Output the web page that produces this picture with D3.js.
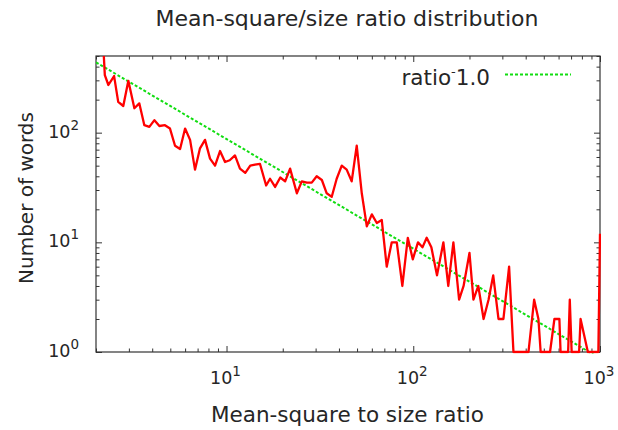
<!DOCTYPE html>
<html><head><meta charset="utf-8">
<script src="https://cdn.jsdelivr.net/npm/d3@7"></script>
<style>
body{margin:0;background:#fff}
text{font-family:"DejaVu Sans",sans-serif;fill:#262626}
</style>
</head><body>
<svg id="c" width="618" height="430"></svg>
<script>
// ---- data ----
const ratioBins = [2.19, 2.23, 2.33, 2.50, 2.63, 2.80, 2.98, 3.21, 3.41, 3.63,
  3.86, 4.11, 4.37, 4.68, 4.98, 5.30, 5.64, 6.00, 6.38, 6.78,
  7.21, 7.67, 8.16, 8.68, 9.23, 9.82, 10.4, 11.1, 11.8, 12.6,
  13.4, 14.2, 15.1, 16.3, 17.1, 18.2, 19.4, 20.6, 21.9, 23.8,
  25.3, 26.9, 28.6, 30.4, 32.4, 34.4, 36.6, 38.9, 41.4, 44.0,
  46.8, 49.8, 53.0, 56.4, 60.0, 63.8, 67.8, 72.1, 76.7, 81.6,
  87.4, 93.5, 99.4, 106, 112, 118, 125, 134, 145, 154,
  164, 176, 186, 200, 210, 223, 238, 253, 268, 286,
  304, 326, 344, 366, 389, 414, 444, 468, 481, 511,
  540, 570, 606, 615, 650, 675, 689, 705, 740, 773,
  787, 861, 918, 980, 1000];
const wordCounts = [600, 335, 272, 328, 191, 175, 297, 167, 185, 117,
  113, 130, 115, 117, 109, 76, 71, 109, 86, 46,
  72, 86, 58, 50, 68, 54, 56, 62, 47, 43,
  50, 51, 52, 33, 38, 32, 39, 36, 47, 28,
  36, 35, 35, 40, 37, 28, 26, 38, 50, 46,
  36, 76, 28, 14, 18, 15, 16, 6, 10, 10,
  4, 11, 7, 10, 9, 11, 9, 5, 10, 4,
  10, 3, 4, 8, 3, 4, 2, 3, 5, 2,
  2, 6, 1, 1, 1, 1, 3, 2, 1, 1,
  1, 2, 2, 1, 1, 1, 3, 1, 1, 1,
  2, 1, 1, 1, 12];
const fitX = [2, 1000];
const fitY = [437.5, 0.875];
const xMajor = [10, 100, 1000];
const xTickExp = ["1", "2", "3"];
const yMajor = [1, 10, 100];
const yTickExp = ["0", "1", "2"];
const titleText = "Mean-square/size ratio distribution";
const xLabel = "Mean-square to size ratio";
const yLabel = "Number of words";
const legendBase = "ratio", legendSup = "-", legendTail = "1.0";

// ---- drawing ----
const W = 618, H = 430;
const m = {l: 96, r: 600, t: 56, b: 352};
const svg = d3.select("#c");
svg.append("rect").attr("width", W).attr("height", H).attr("fill", "#fff");

const x = d3.scaleLog().domain([2, 1000]).range([m.l, m.r]);
const y = d3.scaleLog().domain([1, 500]).range([m.b, m.t]);

svg.append("defs").append("clipPath").attr("id", "clip")
  .append("rect").attr("x", m.l).attr("y", m.t)
  .attr("width", m.r - m.l + 1).attr("height", m.b - m.t + 1.5);

const isMajor = v => Math.abs(Math.log10(v) - Math.round(Math.log10(v))) < 1e-9;
const MAJ = 6, MIN = 3.5;

function styleAxis(g) {
  g.select(".domain").remove();
  g.selectAll(".tick line").attr("stroke", "#333").attr("stroke-width", 1);
}
const xt = x.ticks();
const yt = y.ticks();
svg.append("g").attr("transform", `translate(0,${m.b})`)
  .call(d3.axisBottom(x).tickValues(xt).tickSize(-MAJ).tickFormat(""))
  .call(styleAxis)
  .selectAll(".tick line").attr("y2", d => isMajor(d) ? -MAJ : -MIN);
svg.append("g").attr("transform", `translate(0,${m.t})`)
  .call(d3.axisTop(x).tickValues(xt).tickSize(-MAJ).tickFormat(""))
  .call(styleAxis)
  .selectAll(".tick line").attr("y2", d => isMajor(d) ? MAJ : MIN);
svg.append("g").attr("transform", `translate(${m.l},0)`)
  .call(d3.axisLeft(y).tickValues(yt).tickSize(-MAJ).tickFormat(""))
  .call(styleAxis)
  .selectAll(".tick line").attr("x2", d => isMajor(d) ? MAJ : MIN);
svg.append("g").attr("transform", `translate(${m.r},0)`)
  .call(d3.axisRight(y).tickValues(yt).tickSize(-MAJ).tickFormat(""))
  .call(styleAxis)
  .selectAll(".tick line").attr("x2", d => isMajor(d) ? -MAJ : -MIN);

// border
svg.append("rect").attr("x", m.l).attr("y", m.t)
  .attr("width", m.r - m.l).attr("height", m.b - m.t)
  .attr("fill", "none").attr("stroke", "#333").attr("stroke-width", 1.2);

// tick labels
xMajor.forEach((v, i) => {
  const t = svg.append("text").attr("x", x(v) - 1).attr("y", 384)
    .attr("text-anchor", "middle").attr("font-size", 17.5);
  t.append("tspan").text("10");
  t.append("tspan").attr("dy", -8).attr("font-size", 13.5).text(xTickExp[i]);
});
yMajor.forEach((v, i) => {
  const t = svg.append("text").attr("x", 79).attr("y", y(v) + 5)
    .attr("text-anchor", "end").attr("font-size", 17.5);
  t.append("tspan").text("10");
  t.append("tspan").attr("dy", -8).attr("font-size", 13.5).text(yTickExp[i]);
});

// series
const pts = ratioBins.map((r, i) => [r, wordCounts[i]]);
const line = d3.line().x(d => x(d[0])).y(d => y(d[1]));
const fitPts = fitX.map((v, i) => [v, fitY[i]]);

svg.append("path").datum(fitPts).attr("clip-path", "url(#clip)")
  .attr("d", line).attr("fill", "none")
  .attr("stroke", "#11dd11").attr("stroke-width", 2).attr("stroke-dasharray", "3,2");
svg.append("path").datum(pts).attr("clip-path", "url(#clip)")
  .attr("d", line).attr("fill", "none")
  .attr("stroke", "#ff0000").attr("stroke-width", 2.3).attr("stroke-linejoin", "round");

// legend
const lg = svg.append("text").attr("x", 490).attr("y", 85)
  .attr("text-anchor", "end").attr("font-size", 21.5);
lg.append("tspan").text(legendBase);
lg.append("tspan").attr("dy", -9).attr("font-size", 13).text(legendSup);
lg.append("tspan").attr("dy", 9).text(legendTail);
svg.append("line").attr("x1", 505).attr("x2", 571).attr("y1", 74.5).attr("y2", 74.5)
  .attr("stroke", "#11dd11").attr("stroke-width", 2).attr("stroke-dasharray", "3,2");

// titles
svg.append("text").attr("x", 347).attr("y", 26).attr("text-anchor", "middle")
  .attr("font-size", 22).text(titleText);
svg.append("text").attr("x", 347.5).attr("y", 422).attr("text-anchor", "middle")
  .attr("font-size", 21.5).text(xLabel);
svg.append("text").attr("transform", "translate(33,198) rotate(-90)")
  .attr("text-anchor", "middle").attr("font-size", 20).text(yLabel);
</script>
</body></html>
